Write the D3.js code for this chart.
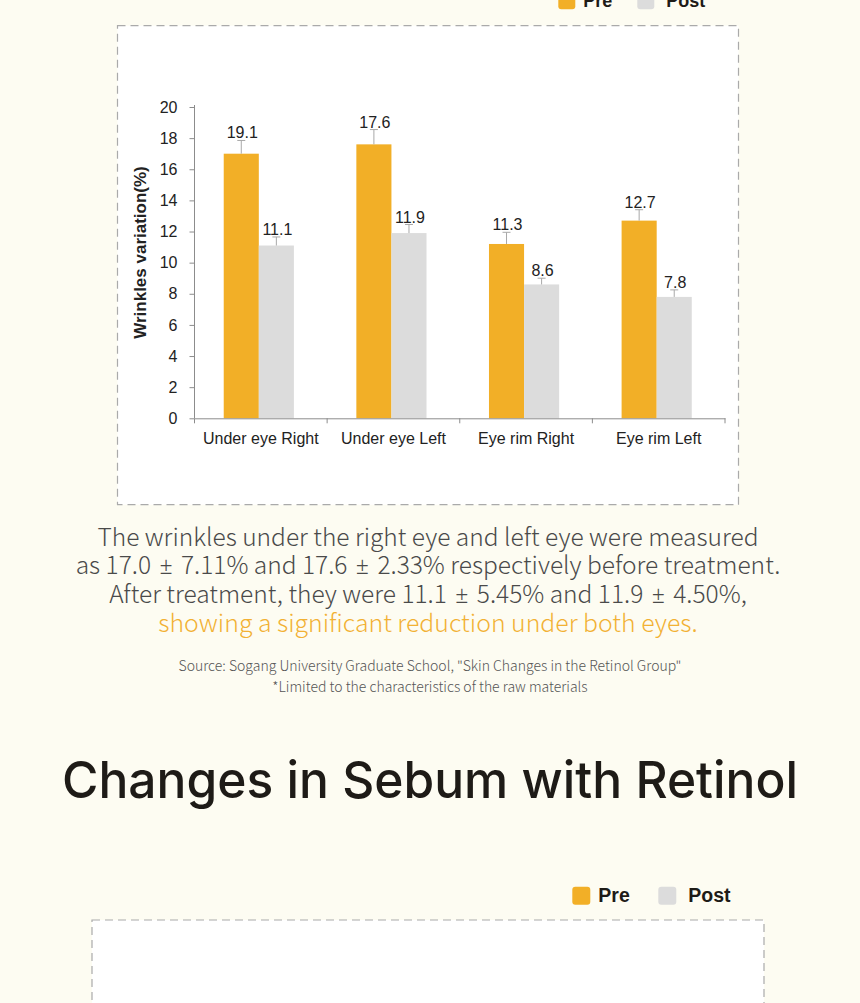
<!DOCTYPE html>
<html>
<head>
<meta charset="utf-8">
<script src="https://cdn.jsdelivr.net/npm/d3@7"></script>
<style>
  html, body { margin: 0; padding: 0; background: #fdfcf2; }
  svg { display: block; }
</style>
</head>
<body>
<div id="page"></div>
<script>
// Data
const categories = ["Under eye Right", "Under eye Left", "Eye rim Right", "Eye rim Left"];
const seriesNames = ["Pre", "Post"];
const preValues = [17.0, 17.6, 11.2, 12.7];
const postValues = [11.1, 11.9, 8.6, 7.8];
const preErrors = [0.85, 0.95, 0.75, 0.7];
const postErrors = [0.55, 0.55, 0.4, 0.45];
const preLabels = ["19.1", "17.6", "11.3", "12.7"];
const postLabels = ["11.1", "11.9", "8.6", "7.8"];
const yTicks = [0, 2, 4, 6, 8, 10, 12, 14, 16, 18, 20];

const noteLines = [
    "The wrinkles under the right eye and left eye were measured",
    "as 17.0 \u00b1 7.11% and 17.6 \u00b1 2.33% respectively before treatment.",
    "After treatment, they were 11.1 \u00b1 5.45% and 11.9 \u00b1 4.50%,",
];
const highlightLine = "showing a significant reduction under both eyes.";
const sourceLines = [
    "Source: Sogang University Graduate School, \"Skin Changes in the Retinol Group\"",
    "*Limited to the characteristics of the raw materials",
];
const sectionTitle = "Changes in Sebum with Retinol";

// Colors
const colors = { Pre: "#f2af27", Post: "#dcdcdc" };

const width = 860,
    height = 1003;

const svg = d3
    .select("#page")
    .append("svg")
    .attr("width", width)
    .attr("height", height);

svg.append("rect").attr("width", width).attr("height", height).attr("fill", "#fdfcf2");

// Legend helper
function legend(x, y, size, fontSize, gap) {
    const g = svg.append("g").attr("transform", `translate(${x},${y})`);
    seriesNames.forEach((s, i) => {
        const gx = i * gap;
        g.append("rect")
            .attr("x", gx)
            .attr("y", 0)
            .attr("width", size)
            .attr("height", size)
            .attr("rx", 3)
            .attr("fill", colors[s]);
        g.append("text")
            .attr("x", gx + size + (i === 0 ? 8 : 12))
            .attr("y", size - 2.5)
            .attr("font-family", "'Liberation Sans Narrow', 'Liberation Sans', sans-serif")
            .attr("font-weight", 700)
            .attr("font-size", fontSize)
            .attr("fill", "#1e1b17")
            .text(s);
    });
}

// Dashed card
function card(x, y, w, h) {
    svg.append("rect")
        .attr("x", x)
        .attr("y", y)
        .attr("width", w)
        .attr("height", h)
        .attr("fill", "#fff")
        .attr("stroke", "#aaaaaa")
        .attr("stroke-width", 1.2)
        .attr("stroke-dasharray", "8,5");
}

legend(558.3, -7.7, 17, 18, 79);
card(117.5, 25.7, 621, 479);

// Chart 1
const margin = { left: 194.5, right: 725, top: 107, bottom: 418.3 };

const x0 = d3
    .scaleBand()
    .domain(categories)
    .range([margin.left, margin.right]);

const x1 = d3
    .scaleBand()
    .domain(seriesNames)
    .range([0, x0.bandwidth()])
    .paddingOuter(0.89);

const y = d3.scaleLinear().domain([0, 20]).range([margin.bottom, margin.top]);

const chart = svg.append("g");

const rows = categories.map((c, i) => ({
    cat: c,
    bars: [
        { s: "Pre", v: preValues[i], e: preErrors[i], label: preLabels[i] },
        { s: "Post", v: postValues[i], e: postErrors[i], label: postLabels[i] },
    ],
}));

const group = chart
    .selectAll("g.grp")
    .data(rows)
    .enter()
    .append("g")
    .attr("class", "grp")
    .attr("transform", (d) => `translate(${x0(d.cat) - 2},0)`);

const bar = group
    .selectAll("g.bar")
    .data((d) => d.bars)
    .enter()
    .append("g");

bar.append("rect")
    .attr("x", (d) => x1(d.s))
    .attr("y", (d) => y(d.v))
    .attr("width", x1.bandwidth())
    .attr("height", (d) => y(0) - y(d.v))
    .attr("fill", (d) => colors[d.s]);

// Error bars
bar.append("line")
    .attr("x1", (d) => x1(d.s) + x1.bandwidth() / 2)
    .attr("x2", (d) => x1(d.s) + x1.bandwidth() / 2)
    .attr("y1", (d) => y(d.v))
    .attr("y2", (d) => y(d.v + d.e))
    .attr("stroke", "#a8a8a8")
    .attr("stroke-width", 1);

bar.append("line")
    .attr("x1", (d) => x1(d.s) + x1.bandwidth() / 2 - 4)
    .attr("x2", (d) => x1(d.s) + x1.bandwidth() / 2 + 4)
    .attr("y1", (d) => y(d.v + d.e))
    .attr("y2", (d) => y(d.v + d.e))
    .attr("stroke", "#a8a8a8")
    .attr("stroke-width", 1);

// Value labels
bar.append("text")
    .attr("x", (d) => x1(d.s) + x1.bandwidth() / 2 + 1)
    .attr("y", (d) => y(d.v + d.e) - 2)
    .attr("text-anchor", "middle")
    .attr("font-family", "'Liberation Sans', Arial, sans-serif")
    .attr("font-size", 16)
    .attr("fill", "#222")
    .text((d) => d.label);

// Y axis
const yAxis = chart
    .append("g")
    .attr("transform", `translate(${margin.left},0)`)
    .call(d3.axisLeft(y).tickValues(yTicks).tickSize(5).tickPadding(12).tickSizeOuter(0));

// X axis (labels only, boundary ticks drawn below)
const xAxis = chart
    .append("g")
    .attr("transform", `translate(0,${margin.bottom})`)
    .call(d3.axisBottom(x0).tickSize(0).tickPadding(14).tickSizeOuter(0));

xAxis
    .selectAll(".tick-b")
    .data(categories.concat(["end"]))
    .enter()
    .append("line")
    .attr("class", "tick-b")
    .attr("x1", (d) => (d === "end" ? margin.right : x0(d)))
    .attr("x2", (d) => (d === "end" ? margin.right : x0(d)))
    .attr("y1", 0)
    .attr("y2", 5)
    .attr("stroke", "#8c8c8c");

[yAxis, xAxis].forEach((ax) => {
    ax.selectAll("path, line").attr("stroke", "#8c8c8c");
    ax.selectAll("text")
        .attr("font-family", "'Liberation Sans', Arial, sans-serif")
        .attr("font-size", 16)
        .attr("fill", "#222");
});
yAxis.select(".domain").attr("d", `M0,${margin.top - 2}V${margin.bottom}`);

chart
    .append("text")
    .attr("transform", "translate(145.5,252.5) rotate(-90)")
    .attr("text-anchor", "middle")
    .attr("font-family", "'Liberation Sans', Arial, sans-serif")
    .attr("font-weight", 700)
    .attr("font-size", 17)
    .attr("fill", "#222")
    .text("Wrinkles variation(%)");

// Note paragraph
const noteFont = "'Noto Sans CJK KR', 'Noto Sans', sans-serif";
const note = svg
    .selectAll("text.note")
    .data(noteLines.concat([highlightLine]))
    .enter()
    .append("text")
    .attr("class", "note")
    .attr("x", 428)
    .attr("y", (d, i) => 545.7 + i * 28.7)
    .attr("text-anchor", "middle")
    .attr("font-family", noteFont)
    .attr("font-weight", 300)
    .attr("font-size", (d) => (d === highlightLine ? 24.8 : 24.5))
    .attr("fill", (d) => (d === highlightLine ? "#f2b134" : "#4a4a4a"));

// keep the plus-minus sign narrow (CJK font draws it full width)
note.each(function (d) {
    const t = d3.select(this);
    d.split("\u00b1").forEach((part, i) => {
        if (i > 0)
            t.append("tspan")
                .attr("font-family", "'Noto Sans', sans-serif")
                .attr("font-size", 23)
                .attr("dx", 3)
                .text("\u00b1");
        t.append("tspan").attr("dx", i > 0 ? 3 : 0).text(part);
    });
});

svg.selectAll("text.src")
    .data(sourceLines)
    .enter()
    .append("text")
    .attr("class", "src")
    .attr("x", 430)
    .attr("y", (d, i) => 670.5 + i * 21)
    .attr("text-anchor", "middle")
    .attr("font-family", noteFont)
    .attr("font-weight", 300)
    .attr("font-size", 14)
    .attr("fill", "#555")
    .text((d) => d);

// Section title
svg.append("text")
    .attr("x", 430)
    .attr("y", 798.3)
    .attr("text-anchor", "middle")
    .attr("font-family", "Inter, 'Liberation Sans', sans-serif")
    .attr("font-weight", 500)
    .attr("font-size", 51)
    .attr("textLength", 736)
    .attr("lengthAdjust", "spacingAndGlyphs")
    .attr("fill", "#1e1b17")
    .text(sectionTitle);

// Second legend and card
legend(572.3, 886.7, 18, 19.5, 86);
card(92, 920, 672, 200);
</script>
</body>
</html>
